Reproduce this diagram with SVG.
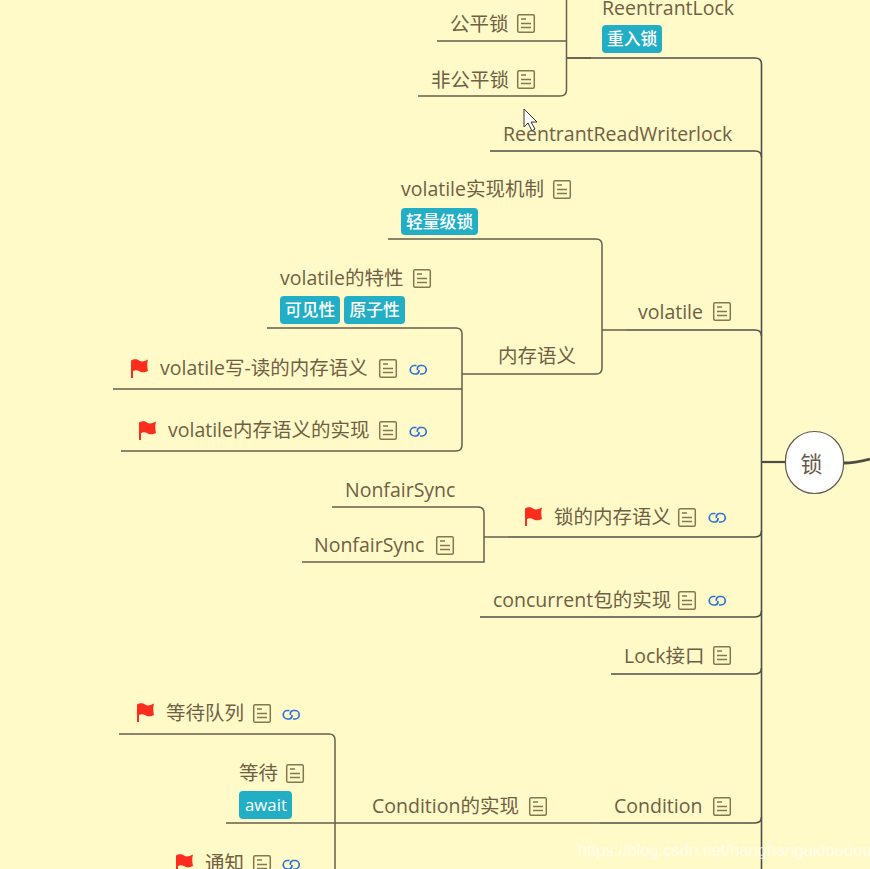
<svg xmlns="http://www.w3.org/2000/svg" width="870" height="869" viewBox="0 0 870 869">
<style>
.t{font-family:"Open Sans","Noto Sans CJK SC",sans-serif;font-size:19.500px;fill:#6f6044}
.l{font-family:"Open Sans","Noto Sans CJK SC",sans-serif;font-size:16.800px;fill:#fff;font-weight:500}
.tag{fill:#22aec4}
.c{fill:none;stroke:#66604c;stroke-width:1.5}
.m{fill:none;stroke:#50504a;stroke-width:1.6}
</style>
<defs>
<g id="note"><rect x="0.7" y="0.7" width="16.6" height="17.6" rx="1.5" fill="none" stroke="#85774f" stroke-width="1.5"/><path d="M4 5H9M4 9.5H14M4 13.5H14" stroke="#85774f" stroke-width="1.4" fill="none"/></g>
<g id="flag"><path d="M0 19V1.500C3 -0.500 6 0 8 1.500C10 2.800 13 2.800 17 0.500C16 4 16 8 17 12C13.500 14 10 13.500 8 12C6 10.800 3.500 11 2 12V19Z" fill="#fb2d1f"/></g>
<g id="link"><path d="M6.500 1.500H4.500A4 4 0 0 0 4.500 10H6.500A3.800 3.800 0 0 0 9 6M10 10H12A4 4 0 0 0 12 1.500H10A3.800 3.800 0 0 0 7.500 6" fill="none" stroke="#2e72d8" stroke-width="1.700"/></g>
</defs>
<rect width="870" height="869" fill="#fffac8"/>
<g id="connectors">
<path class="m" d="M761.500 869V64Q761.500 58 755 58H566.500"/>
<path class="m" d="M490 151H755Q761.500 151 761.500 157"/>
<path class="m" d="M627 330H755Q761.500 330 761.500 336"/>
<path class="m" d="M508 537H755Q761.500 537 761.500 531"/>
<path class="m" d="M480 617H755Q761.500 617 761.500 611"/>
<path class="m" d="M611 674H755Q761.500 674 761.500 668"/>
<path class="m" d="M600 823H755Q761.500 823 761.500 817"/>
<path d="M762 462H786" fill="none" stroke="#4e4b42" stroke-width="2.200"/>
<path d="M844 463C852 463 858 462 870 459" fill="none" stroke="#4e4b42" stroke-width="2.800"/>
<path class="c" d="M566.500 0V90Q566.500 96 560 96H418M437 41H566.500M566.500 58H591"/>
<path class="c" d="M388 239H596Q602 239 602 245V368Q602 374 596 374H487M602 330H627"/>
<path class="c" d="M267 328H456Q462 328 462 334V445Q462 451 456 451H121M113 389H462M462 374H487"/>
<path class="c" d="M332 507H478Q484 507 484 513V562H302M484 537H508"/>
<path class="c" d="M119 734H329Q335 734 335 740V869M226 823H600"/>
</g>
<g id="n-reentrantlock"><text class="t" x="602" y="14.500">ReentrantLock</text><rect class="tag" x="602" y="25" width="60" height="28" rx="4"/><text class="l" x="607" y="45">重入锁</text></g>
<g id="n-fair"><text class="t" x="450" y="30.500">公平锁</text><use href="#note" x="517" y="14"/></g>
<g id="n-unfair"><text class="t" x="431" y="86.500">非公平锁</text><use href="#note" x="517" y="70"/></g>
<g id="n-rrw"><text class="t" x="503" y="141">ReentrantReadWriterlock</text></g>
<g id="n-vimpl"><text class="t" x="401" y="196">volatile实现机制</text><use href="#note" x="553" y="180"/><rect class="tag" x="401" y="208" width="77" height="27" rx="4"/><text class="l" x="406" y="227.500">轻量级锁</text></g>
<g id="n-volatile"><text class="t" x="638" y="319">volatile</text><use href="#note" x="713" y="302"/></g>
<g id="n-memsem"><text class="t" x="498" y="363">内存语义</text></g>
<g id="n-vfeat"><text class="t" x="280" y="285">volatile的特性</text><use href="#note" x="413" y="269"/><rect class="tag" x="280" y="296" width="60" height="28" rx="4"/><text class="l" x="285" y="316">可见性</text><rect class="tag" x="344" y="296" width="61" height="28" rx="4"/><text class="l" x="349.500" y="316">原子性</text></g>
<g id="n-vwr"><use href="#flag" x="131" y="359"/><text class="t" x="160" y="375">volatile写-读的内存语义</text><use href="#note" x="379" y="359"/><use href="#link" x="410" y="364"/></g>
<g id="n-vmem"><use href="#flag" x="139" y="421"/><text class="t" x="168" y="437">volatile内存语义的实现</text><use href="#note" x="379" y="421"/><use href="#link" x="410" y="426"/></g>
<g id="n-nf1"><text class="t" x="345" y="497">NonfairSync</text></g>
<g id="n-nf2"><text class="t" x="314" y="552">NonfairSync</text><use href="#note" x="436" y="536"/></g>
<g id="n-lockmem"><use href="#flag" x="525" y="507"/><text class="t" x="554" y="524">锁的内存语义</text><use href="#note" x="678" y="508"/><use href="#link" x="709" y="512"/></g>
<g id="n-conc"><text class="t" x="493" y="607">concurrent包的实现</text><use href="#note" x="678" y="591"/><use href="#link" x="709" y="595"/></g>
<g id="n-lockif"><text class="t" x="624" y="663">Lock接口</text><use href="#note" x="713" y="646"/></g>
<g id="n-queue"><use href="#flag" x="137" y="703"/><text class="t" x="166" y="720">等待队列</text><use href="#note" x="253" y="704"/><use href="#link" x="283" y="709"/></g>
<g id="n-wait"><text class="t" x="239" y="780">等待</text><use href="#note" x="286" y="764"/><rect class="tag" x="239" y="791" width="53" height="28" rx="4"/><text class="l" x="245" y="811">await</text></g>
<g id="n-signal"><use href="#flag" x="176" y="854"/><text class="t" x="205" y="870">通知</text><use href="#note" x="253" y="855"/><use href="#link" x="283" y="859"/></g>
<g id="n-cimpl"><text class="t" x="372" y="813">Condition的实现</text><use href="#note" x="529" y="797"/></g>
<g id="n-condition"><text class="t" x="614" y="813">Condition</text><use href="#note" x="713" y="797"/></g>
<g id="n-lock"><rect x="785.500" y="431.500" width="58" height="62" rx="29" fill="#fff" stroke="#5e5a4a" stroke-width="1.200"/><text x="811.500" y="472" text-anchor="middle" font-family="'Noto Sans CJK SC',sans-serif" font-size="22" fill="#6a5a48">锁</text></g>
<path d="M524 109V127L528 123L532 131L535 129L531 122L537 122Z" fill="#fff" stroke="#333" stroke-width="1"/>
<text x="578" y="856" font-family="'Liberation Sans',sans-serif" font-size="16.500" fill="#fff" fill-opacity="0.65">https://blog.csdn.net/hanghangaidoudou</text>
</svg>
